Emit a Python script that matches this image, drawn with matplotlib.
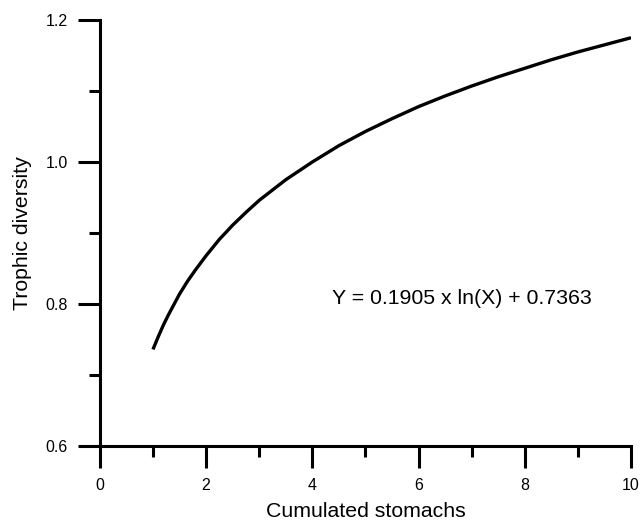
import matplotlib
matplotlib.use('Agg')
import matplotlib.pyplot as plt
from matplotlib.ticker import MultipleLocator

plt.rcParams['font.family'] = ['Liberation Sans', 'DejaVu Sans']

# values
stomachs = [1, 1.1, 1.2, 1.3, 1.4, 1.5, 1.65, 1.8, 2, 2.25, 2.5, 2.75, 3, 3.5, 4, 4.5,
            5, 5.5, 6, 6.5, 7, 7.5, 8, 8.5, 9, 9.5, 10]
diversity = [0.736, 0.754, 0.771, 0.786, 0.800, 0.814, 0.832, 0.848, 0.868, 0.891,
             0.911, 0.929, 0.946, 0.975, 1.000, 1.023, 1.043, 1.061, 1.078, 1.093,
             1.107, 1.120, 1.132, 1.144, 1.155, 1.165, 1.175]
equation = 'Y = 0.1905 x ln(X) + 0.7363'

fig = plt.figure(figsize=(6.4, 5.22), dpi=100)
ax = fig.add_axes([0.156, 0.1456, 0.83, 0.8161])

ax.plot(stomachs, diversity, color='black', lw=2.4, solid_capstyle='butt')

ax.set_xlim(0, 10)
ax.set_ylim(0.6, 1.2)
ax.xaxis.set_major_locator(MultipleLocator(2))
ax.xaxis.set_minor_locator(MultipleLocator(1))
ax.yaxis.set_major_locator(MultipleLocator(0.2))
ax.yaxis.set_minor_locator(MultipleLocator(0.1))
ax.yaxis.set_major_formatter(plt.FuncFormatter(lambda v, p: f'{v:.1f}'))

for s in ['top', 'right']:
    ax.spines[s].set_visible(False)
for s in ['left', 'bottom']:
    ax.spines[s].set_linewidth(2.2)

ax.tick_params(which='major', length=16, width=2.2, labelsize=11.5, pad=7)
ax.tick_params(which='minor', length=8, width=2.2)

ax.text(4.37, 0.808, equation, fontsize=15.3, va='center', ha='left')

ax.set_xlabel('Cumulated stomachs', fontsize=15.3, labelpad=6.5)
ax.set_ylabel('Trophic diversity', fontsize=15.3, labelpad=10)

fig.savefig('out.png', dpi=100)
